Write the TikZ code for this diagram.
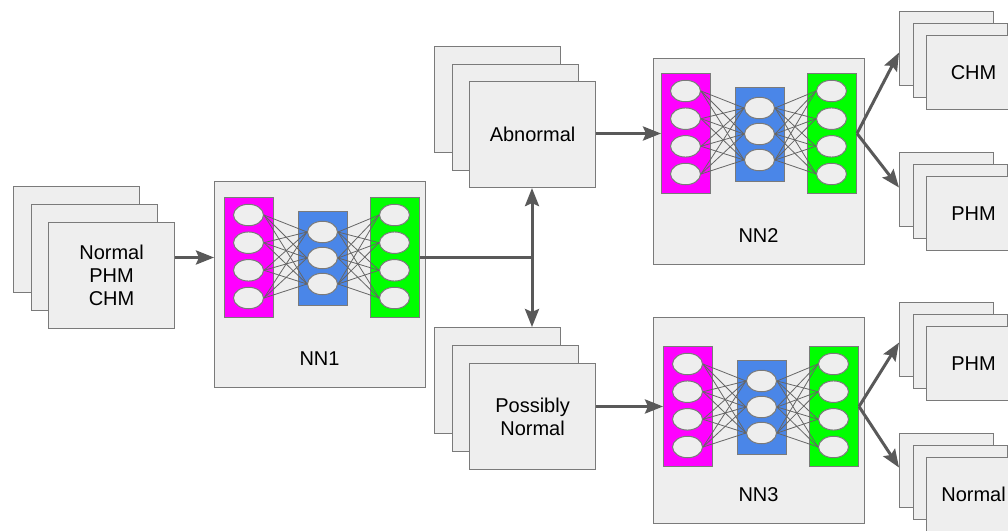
\documentclass[tikz,border=0pt]{standalone}
\usepackage{fontspec}
\setmainfont{Liberation Sans}
\usetikzlibrary{arrows.meta,calc,shapes.geometric}

\definecolor{cardfill}{HTML}{EEEEEE}
\definecolor{edgegray}{HTML}{7A7A7A}
\definecolor{arrowgray}{HTML}{595959}
\definecolor{inmag}{HTML}{FF00FF}
\definecolor{hidblue}{HTML}{4A86E8}
\definecolor{outgreen}{HTML}{00FF00}
\definecolor{wiregray}{HTML}{666666}

\tikzset{
  card/.style={draw=edgegray, fill=cardfill, line width=1.1pt, rectangle,
    inner sep=0pt, anchor=north west, align=center,
    font=\fontsize{20}{23}\selectfont},
  bigcard/.style={card, minimum width=126pt, minimum height=106pt},
  smallcard/.style={card, minimum width=94pt, minimum height=74pt},
  netbox/.style={card, minimum width=211pt, minimum height=206pt},
  layerbox/.style={draw=edgegray, line width=1pt, rectangle, inner sep=0pt,
    anchor=north west, minimum width=49pt},
  neuron/.style={draw=edgegray, fill=cardfill, ellipse, line width=1pt,
    minimum width=30pt, minimum height=21.5pt, inner sep=0pt},
  wire/.style={draw=wiregray, line width=0.8pt},
  tipshape/.tip={Stealth[length=18pt,width=14pt,inset=3pt]},
  flow/.style={draw=arrowgray, line width=3pt, -tipshape},
  flowline/.style={draw=arrowgray, line width=3pt},
  nncaption/.style={font=\fontsize{20}{23}\selectfont, inner sep=0pt},
}

% three stacked cards: name, style, x, y (top-left of back card), dx, dy, text
\newcommand\cardstack[7]{%
  \node[#2] (#1a) at (#3,#4) {};
  \node[#2] (#1b) at ($(#3,#4)+(#5,#6)$) {};
  \node[#2] (#1c) at ($(#3,#4)+(2*#5,2*#6)$) {#7};
}

% network panel: name, box top-left x,y, input layer top-left x,y, caption
\newcommand\neuralnet[6]{%
  \node[netbox] (#1) at (#2,#3) {};
  \node[layerbox, fill=inmag, minimum height=120pt] (#1in) at (#4,#5) {};
  \node[layerbox, fill=hidblue, minimum height=94pt] (#1hid) at (#4+74,#5+14) {};
  \node[layerbox, fill=outgreen, minimum height=120pt] (#1out) at (#4+146,#5) {};
  \foreach \i/\yy in {1/18,2/45.7,3/73.3,4/101} {
    \node[neuron] (#1i\i) at (#4+24.5,#5+\yy) {};
    \node[neuron] (#1o\i) at (#4+170.5,#5+\yy) {};
  }
  \foreach \j/\yy in {1/35,2/61,3/87}
    \node[neuron] (#1h\j) at (#4+98.5,#5+\yy) {};
  \foreach \i in {1,...,4}
    \foreach \j in {1,2,3} {
      \draw[wire] (#1i\i.east) -- (#1h\j.west);
      \draw[wire] (#1h\j.east) -- (#1o\i.west);
    }
  \node[nncaption] (#1cap) at (#2+105.5,#3+178) {#6};
}

\begin{document}
\begin{tikzpicture}[x=1pt, y=-1pt]
  \clip (0,0) rectangle (1008,530);
  \fill[white] (0,0) rectangle (1008,530);

  % input data
  \cardstack{lst}{bigcard}{13}{186}{17.5}{18}{Normal\\PHM\\CHM}

  % first network
  \neuralnet{nna}{214}{181}{224}{197}{NN1}

  % intermediate classes
  \cardstack{abn}{bigcard}{434}{46}{17.5}{17.5}{Abnormal}
  \cardstack{pos}{bigcard}{434}{327}{17.5}{18}{Possibly\\Normal}

  % second and third networks
  \neuralnet{nnb}{653}{58}{661}{73}{NN2}
  \neuralnet{nnc}{653}{317}{663}{346}{NN3}

  % final classes
  \cardstack{chm}{smallcard}{899}{11}{13.5}{12}{CHM}
  \cardstack{phmu}{smallcard}{899}{152}{13.5}{12}{PHM}
  \cardstack{phml}{smallcard}{899}{302}{13.5}{12}{PHM}
  \cardstack{nrm}{smallcard}{899}{433}{13.5}{12}{Normal}

  % connectors
  \draw[flow] (lstc.east |- nnain.center) -- (nna.west |- nnain.center);
  \coordinate (forkx) at (532,0);
  \coordinate (fork) at (nnaout.east -| forkx);
  \draw[flowline] (nnaout.east) -- (fork);
  \draw[flowline, tipshape-tipshape] (fork |- abnc.south) -- (fork |- posa.north);
  \draw[flow] (abnc.east |- nnbin.center) -- (nnbin.west);
  \draw[flow] (posc.east |- nncin.center) -- (nncin.west);
  \draw[flow] (nnbout.east) -- ([yshift=-4pt]chma.west);
  \draw[flow] (nnbout.east) -- ([yshift=2pt]phmua.west);
  \draw[flow] (nncout.east) -- ([yshift=-3pt]phmla.west);
  \draw[flow] (nncout.east) -- ([yshift=3pt]nrma.west);
\end{tikzpicture}
\end{document}
